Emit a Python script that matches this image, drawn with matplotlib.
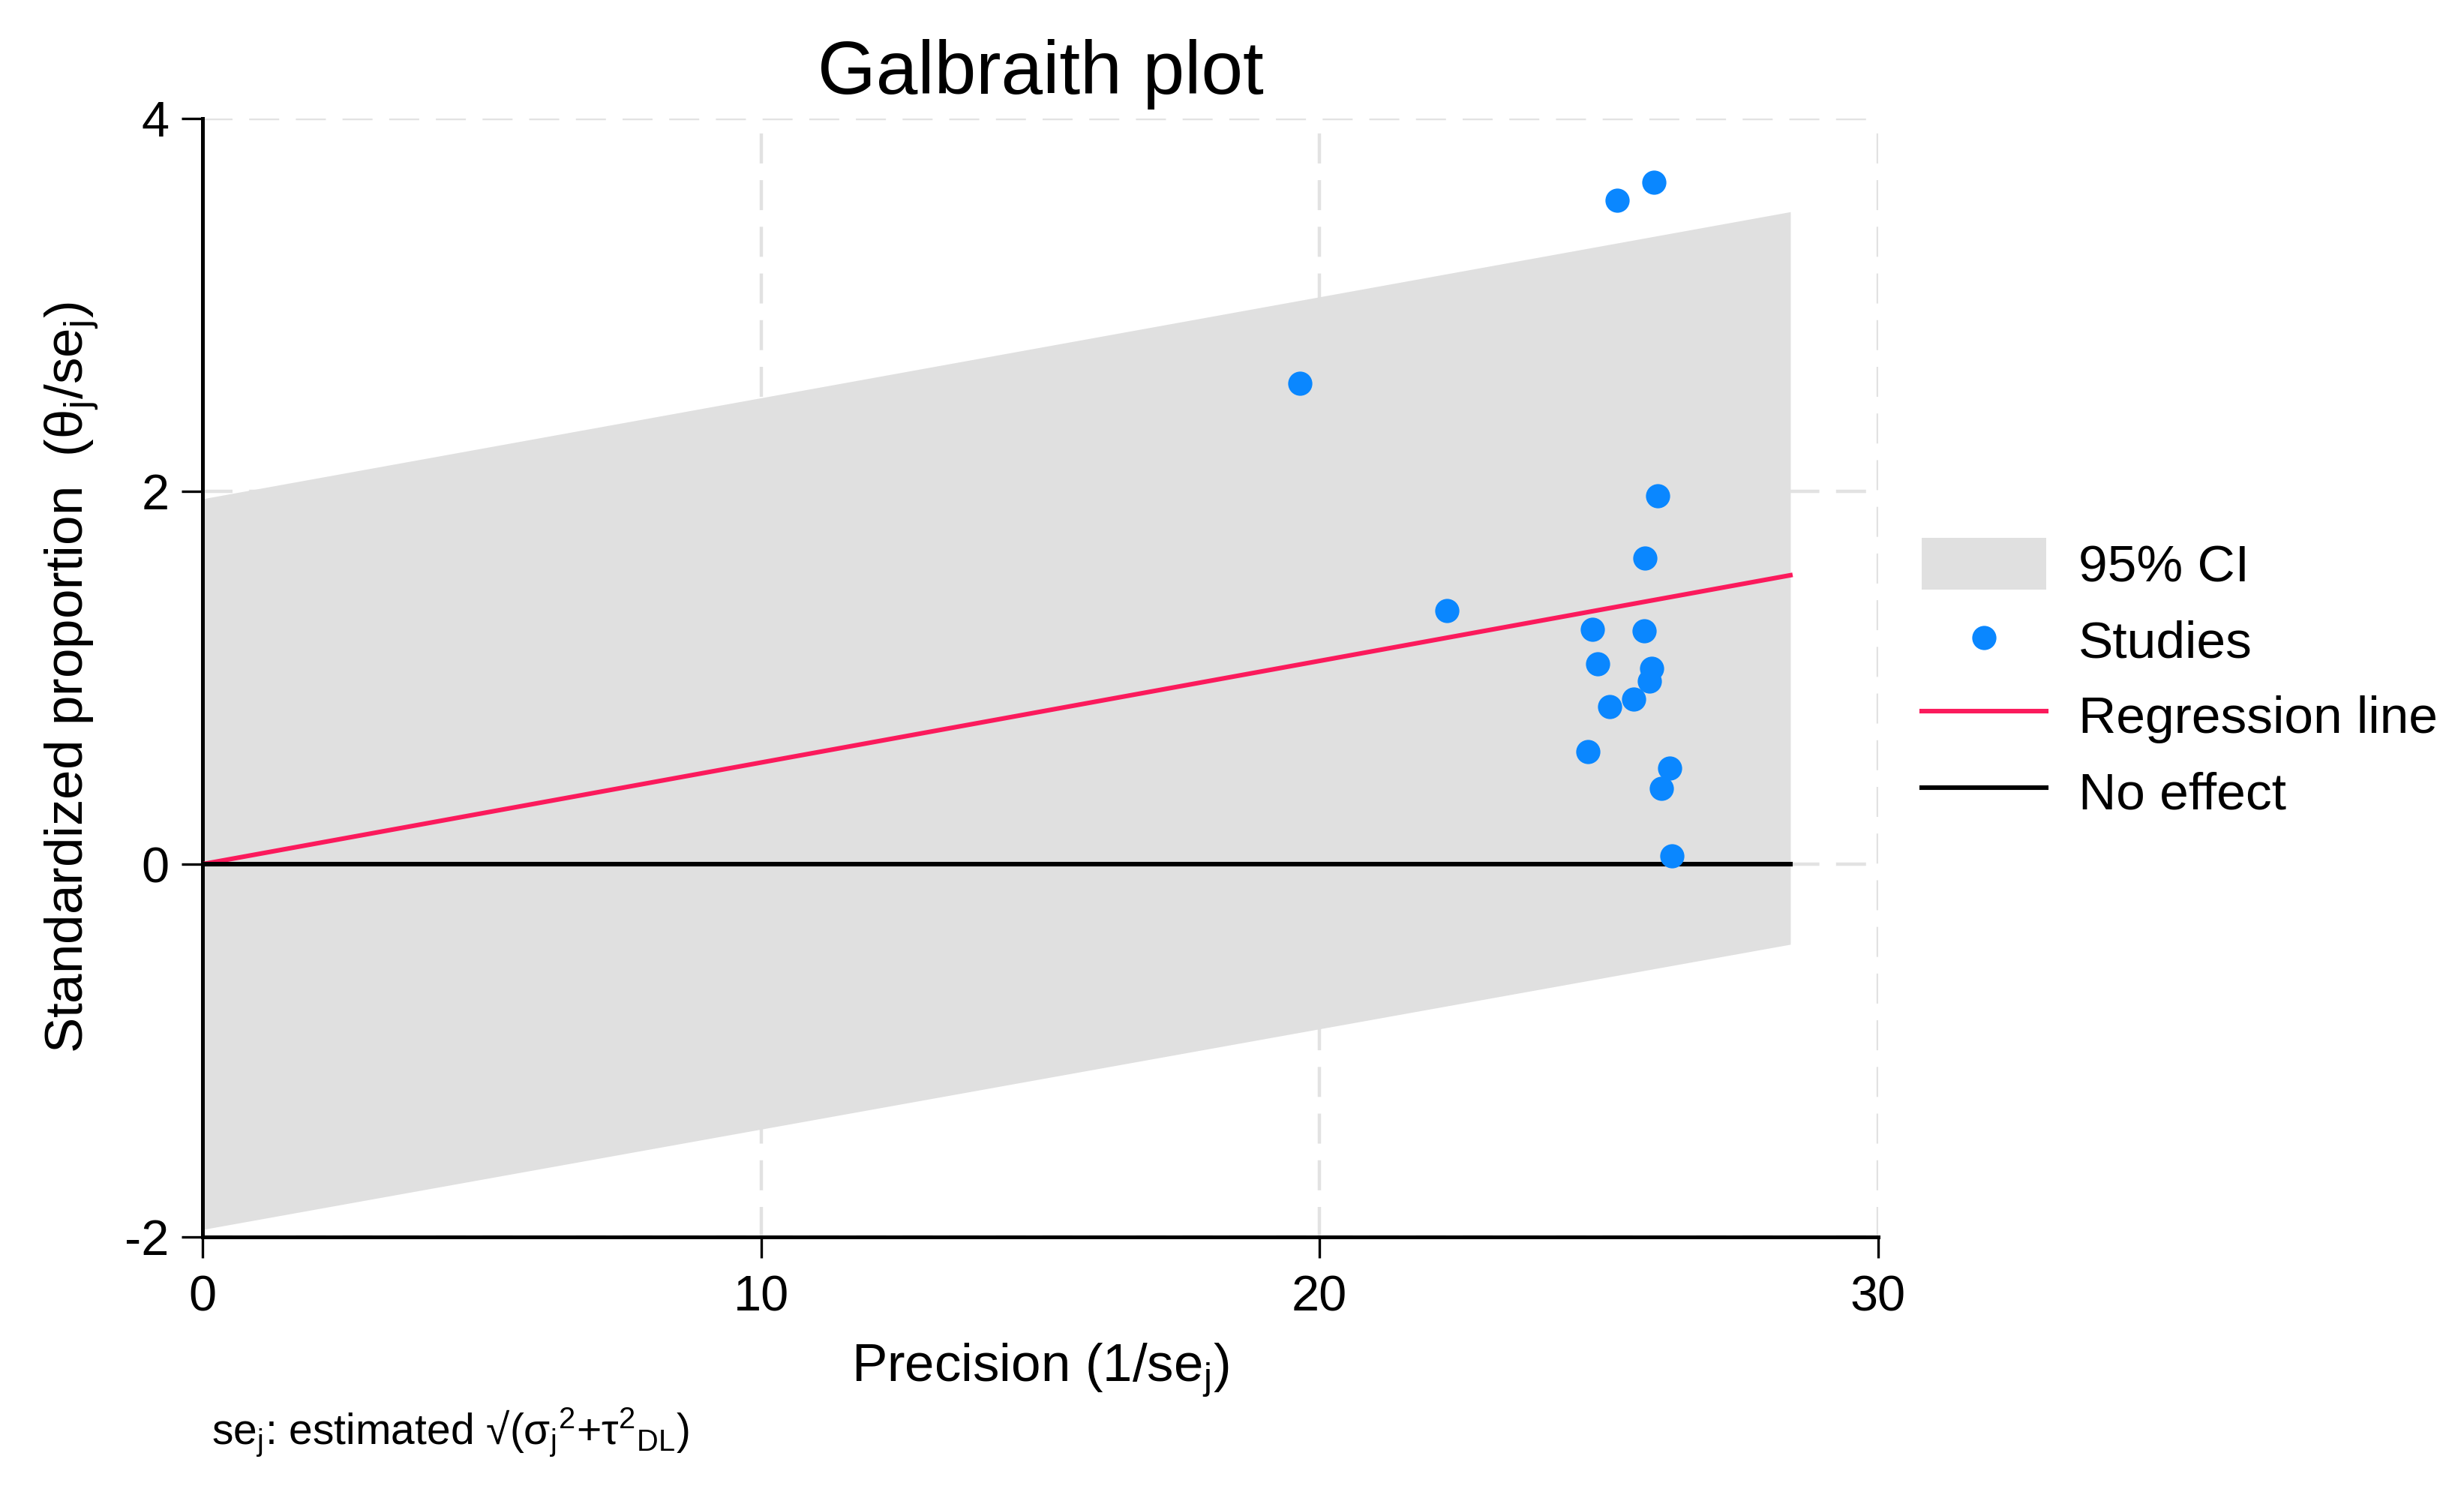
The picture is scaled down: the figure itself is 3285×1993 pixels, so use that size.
import matplotlib
matplotlib.use("Agg")
import matplotlib.pyplot as plt

# studies: precision (1/se_j) and standardized proportion (theta_j/se_j)
precision = [25.99, 25.33, 19.65, 26.05, 25.82, 22.28, 24.89, 25.81, 24.98,
             25.95, 25.91, 25.62, 25.20, 24.81, 26.27, 26.12, 26.31]
std_prop = [3.66, 3.56, 2.58, 1.975, 1.64, 1.36, 1.26, 1.25, 1.075,
            1.05, 0.98, 0.885, 0.845, 0.605, 0.515, 0.405, 0.045]

# regression line and 95% CI band at the ends of the fitted range
fit_x = [0.0, 28.43]
reg_y = [0.0, 1.55]
ci_upper = [1.96, 3.50]
ci_lower = [-1.96, -0.43]
null_y = [0.0, 0.0]

x_ticks = [0, 10, 20, 30]
y_ticks = [-2, 0, 2, 4]

plt.rcParams["font.family"] = ["Liberation Sans", "DejaVu Sans"]
plt.rcParams["mathtext.fontset"] = "custom"
plt.rcParams["mathtext.rm"] = "Liberation Sans"
plt.rcParams["mathtext.it"] = "Liberation Sans:italic"
plt.rcParams["axes.unicode_minus"] = False

BAND = "#e0e0e0"
BLUE = "#0a87ff"
RED = "#fb1a5c"
GRID = "#e2e2e2"

fig = plt.figure(figsize=(16.425, 9.965), dpi=200)
ax = fig.add_axes([0.0822, 0.1726, 0.6800, 0.7481])

ax.fill_between(fit_x, ci_lower, ci_upper, color=BAND, lw=0, zorder=1, label="95% CI")
ax.scatter(precision, std_prop, s=135, color=BLUE, lw=0, zorder=4, label="Studies")
ax.plot(fit_x, reg_y, color=RED, lw=2.2, zorder=3, label="Regression line")
ax.plot(fit_x, null_y, color="black", lw=2.2, zorder=3, label="No effect")

ax.set_xlim(0, 30)
ax.set_ylim(-2, 4)
ax.set_xticks(x_ticks)
ax.set_yticks(y_ticks)
ax.tick_params(axis="both", direction="out", length=10, width=1.2, labelsize=24, colors="black")
ax.tick_params(axis="x", pad=8)
ax.tick_params(axis="y", pad=6)

ax.set_axisbelow(True)
ax.grid(True, color=GRID, lw=1.6, linestyle=(0, (9, 5)), zorder=0)
for s in ("top", "right"):
    ax.spines[s].set_visible(False)
for s in ("left", "bottom"):
    ax.spines[s].set_linewidth(1.8)

ax.set_title("Galbraith plot", fontsize=36, pad=12)
ax.set_xlabel(r"Precision (1/se$_\mathrm{j}$)", fontsize=25.5, labelpad=10)
ax.set_ylabel(r"Standardized proportion  (θ$_\mathrm{j}$/se$_\mathrm{j}$)", fontsize=25.5, labelpad=12)

fig.text(0.0858, 0.0335,
         r"se$_\mathrm{j}$: estimated √(σ$_\mathrm{j}$$^\mathrm{2}$+τ$^\mathrm{2}$$_\mathrm{DL}$)",
         fontsize=20.5, ha="left", va="baseline")

ax.legend(loc="center left", bbox_to_anchor=(0.7692, 0.546), bbox_transform=fig.transFigure,
          frameon=False, fontsize=25, borderpad=0, handlelength=2.39, handleheight=1.15,
          handletextpad=0.63, labelspacing=0.42, markerscale=1.0)

fig.savefig("out.png", dpi=200)
